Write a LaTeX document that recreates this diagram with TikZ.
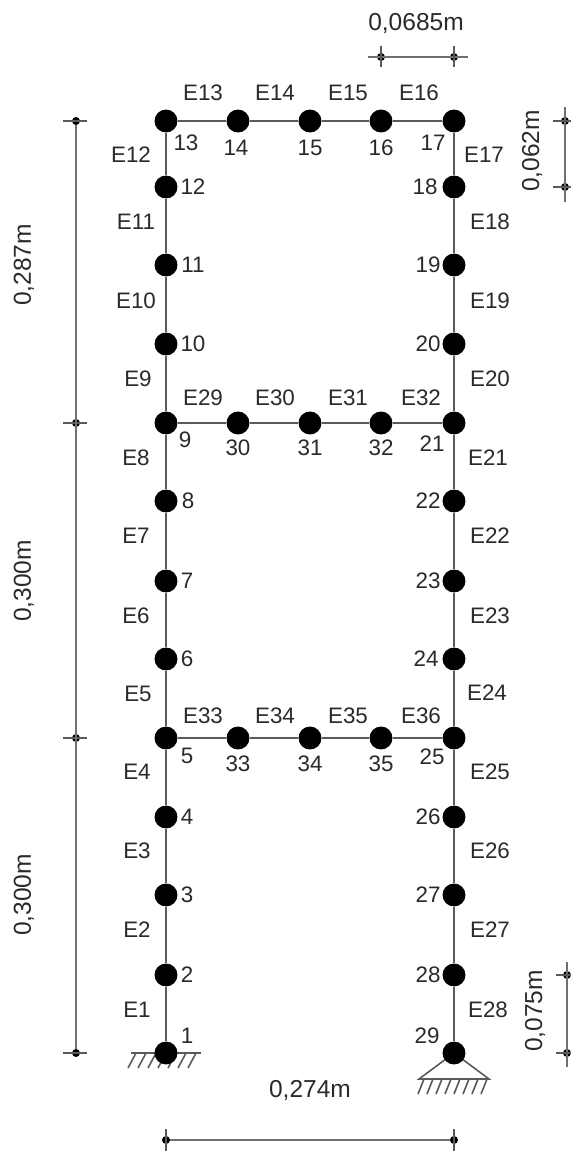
\documentclass[tikz,border=0pt]{standalone}
\usepackage{fontspec}
\setmainfont{Liberation Sans}
\definecolor{ink}{HTML}{2A2A2A}
\definecolor{bar}{HTML}{5A5A5A}
\definecolor{dimbar}{HTML}{707070}
\tikzset{
  x=0.75pt,y=-0.75pt,
  joint/.style={circle,fill=black,inner sep=0pt,minimum size=17.2pt},
  tickdot/.style={circle,fill=black,inner sep=0pt,minimum size=6pt},
  member/.style={draw=bar,line width=2pt},
  dimline/.style={draw=dimbar,line width=1.8pt},
  tickline/.style={draw=bar,line width=1.4pt},
  support/.style={draw=bar,line width=1.2pt},
  txt/.style={inner sep=0pt,text=ink,font=\fontsize{16.8}{18}\selectfont},
  dimtxt/.style={txt,font=\fontsize{18.4}{20}\selectfont},
}
\begin{document}
\begin{tikzpicture}
\useasboundingbox (0,0) rectangle (571,1153);
% supports (under joints)
\coordinate (s1l) at (131,1053);
\coordinate (s1r) at (201,1053);
\draw[support] (s1l) -- (s1r);
\foreach \x in {136,146,...,196} \draw[support] (\x,1053) -- (\x-8,1068);
\coordinate (s2l) at (419,1079);
\coordinate (s2r) at (489,1079);
\coordinate (s2t) at (454,1053);
\draw[support] (s2t) -- (s2l) -- (s2r) -- cycle;
\foreach \x in {424,433,...,488} \draw[support] (\x,1079) -- (\x-6,1094);
% joints
\foreach \n/\y in {1/1053,2/975,3/895,4/817,5/738,6/659,7/581,8/501,9/423,10/344,11/265,12/187,13/121}
  \node[joint] (n\n) at (166,\y) {};
\foreach \n/\y in {17/121,18/187,19/265,20/344,21/423,22/501,23/581,24/659,25/738,26/817,27/895,28/975,29/1053}
  \node[joint] (n\n) at (454,\y) {};
\foreach \n/\x in {14/238,15/310,16/381}
  \node[joint] (n\n) at (\x,121) {};
\foreach \n/\x in {30/238,31/310,32/381}
  \node[joint] (n\n) at (\x,423) {};
\foreach \n/\x in {33/238,34/310,35/381}
  \node[joint] (n\n) at (\x,738) {};
% members
\foreach \a/\b in {1/2,2/3,3/4,4/5,5/6,6/7,7/8,8/9,9/10,10/11,11/12,12/13,13/14,14/15,15/16,16/17,17/18,18/19,19/20,20/21,21/22,22/23,23/24,24/25,25/26,26/27,27/28,28/29,9/30,30/31,31/32,32/21,5/33,33/34,34/35,35/25}
  \draw[member] (n\a) -- (n\b);
% joint labels
\foreach \n/\x/\y in {1/187/1036,2/187/975,3/187/895,4/187/817,5/187/756,6/187/659,7/187/581,8/188/501,9/185/440,10/193/344,11/193/265,12/193/187,13/186/143,14/236/148,15/310/148,16/381/148,17/433/143,18/425/187,19/428/265,20/428/344,21/432/444,22/428/501,23/428/581,24/426/659,25/432/757,26/428/817,27/428/895,28/428/975,29/427/1036,30/238/448,31/310/448,32/381/448,33/238/764,34/310/764,35/381/764}
  \node[txt] (l\n) at (\x,\y) {\n};
% element labels
\foreach \n/\x/\y in {1/137/1010,2/137/930,3/137/851,4/137/772,5/138/694,6/136/616,7/136/536,8/136/458,9/138/379,10/136/301,11/136/222,12/131/155,13/203/93,14/275/93,15/348/93,16/419/93,17/484/155,18/490/222,19/490/301,20/490/379,21/488/458,22/490/536,23/490/616,24/487/693,25/490/772,26/490/851,27/490/930,28/488/1010,29/203/398,30/275/398,31/348/398,32/421/398,33/203/716,34/275/716,35/348/716,36/421/716}
  \node[txt] (e\n) at (\x,\y) {E\n};
% left dimension
\foreach \k/\y in {a/121,b/423,c/738,d/1053}{
  \node[tickdot] (d\k) at (76,\y) {};
  \coordinate (d\k L) at (63,\y);
  \coordinate (d\k R) at (87,\y);
  \draw[tickline] (d\k L) -- (d\k R);
}
\draw[dimline] (da) -- (dd);
% top dimension
\node[tickdot] (t1) at (381,57) {};
\node[tickdot] (t2) at (454,57) {};
\coordinate (t0) at (368,57); \coordinate (t3) at (468,57);
\coordinate (t1u) at (381,46); \coordinate (t1d) at (381,67);
\coordinate (t2u) at (454,46); \coordinate (t2d) at (454,67);
\draw[dimline] (t0) -- (t3);
\draw[tickline] (t1u) -- (t1d);
\draw[tickline] (t2u) -- (t2d);
% right top dimension
\node[tickdot] (r1) at (565,121) {};
\node[tickdot] (r2) at (565,187) {};
\coordinate (r0) at (565,107); \coordinate (r3) at (565,202);
\coordinate (r1l) at (553,121); \coordinate (r1r) at (571,121);
\coordinate (r2l) at (553,187); \coordinate (r2r) at (571,187);
\draw[dimline] (r0) -- (r3);
\draw[tickline] (r1l) -- (r1r);
\draw[tickline] (r2l) -- (r2r);
% right bottom dimension
\node[tickdot] (q1) at (567,975) {};
\node[tickdot] (q2) at (567,1053) {};
\coordinate (q0) at (567,962); \coordinate (q3) at (567,1067);
\coordinate (q1l) at (556,975); \coordinate (q1r) at (571,975);
\coordinate (q2l) at (556,1053); \coordinate (q2r) at (571,1053);
\draw[dimline] (q0) -- (q3);
\draw[tickline] (q1l) -- (q1r);
\draw[tickline] (q2l) -- (q2r);
% bottom dimension
\node[tickdot] (b1) at (166,1140) {};
\node[tickdot] (b2) at (454,1140) {};
\coordinate (b1u) at (166,1129); \coordinate (b1d) at (166,1151);
\coordinate (b2u) at (454,1129); \coordinate (b2d) at (454,1151);
\draw[dimline] (b1) -- (b2);
\draw[tickline] (b1u) -- (b1d);
\draw[tickline] (b2u) -- (b2d);
% dimension labels
\node[dimtxt] (w1) at (416,24) {0,0685m};
\node[dimtxt] (w2) at (310,1090) {0,274m};
\node[dimtxt,rotate=90] (w3) at (24,265) {0,287m};
\node[dimtxt,rotate=90] (w4) at (24,581) {0,300m};
\node[dimtxt,rotate=90] (w5) at (24,895) {0,300m};
\node[dimtxt,rotate=90] (w6) at (532,151) {0,062m};
\node[dimtxt,rotate=90] (w7) at (535,1011) {0,075m};
\end{tikzpicture}
\end{document}
